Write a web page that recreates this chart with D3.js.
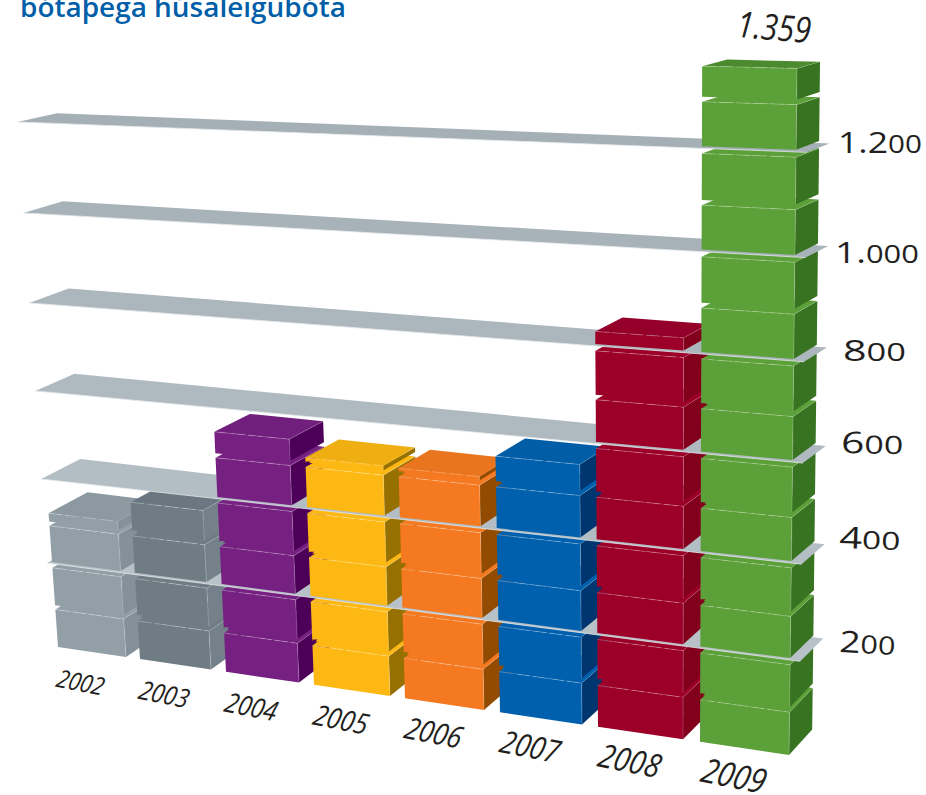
<!DOCTYPE html>
<html><head><meta charset="utf-8">
<style>html,body{margin:0;padding:0;background:#fff}svg{display:block}</style>
<script src="https://cdn.jsdelivr.net/npm/d3@7"></script></head>
<body><svg id="c" width="926" height="795"></svg>
<script>
// ---- data ----
const years = ["2002","2003","2004","2005","2006","2007","2008","2009"];
const values = [320,369,547,510,508,554,829,1359];
const valueTicks = [200,400,600,800,1000,1200];
const tickLabels = ["200","400","600","800","1.000","1.200"];
const peakLabel = "1.359";
const titleText = "bótaþega húsaleigubóta";
const blockSize = 100;
const blockFill = 90;
const frontColors = ["#929fa7","#6f7c84","#762181","#fdb813","#f47920","#0060ae","#9c0028","#5ba038"];
const sideColors  = ["#84919a","#74818a","#4d0058","#967000","#924b00","#003670","#83001c","#387322"];
const topColors   = ["#8d99a1","#6a7780","#701f7c","#efaf12","#ea751f","#005da6","#94002a","#4b8a2e"];

// ---- perspective layout, built from scales ----
const levels = [0,200,400,600,800,1000,1200];
const yAt0   = d3.scaleLinear().domain(levels).range([638.4,556.9,474.4,387.6,300.7,211.6,121.3]);
const yAt800 = d3.scaleLinear().domain(levels).range([756.6,661.3,564,462.8,361.5,257.3,152.1]);
const colIndex = d3.range(years.length);
const colLeft  = d3.scaleLinear().domain(colIndex).range([58,140,226,314,405,500,598,700]);
const colRight = d3.scaleLinear().domain(colIndex).range([126,211,299,390,484,582,683,789]);
const lean   = d3.scaleLinear().domain([58,789]).range([-0.0295,0.0059]);
const depthX = d3.scaleLinear().domain([50,797]).range([39,23]);
const depthY = d3.scaleLinear().domain([0,1400]).range([-25.5,-6]);

function project(x0, v, d){
  const x = x0 + lean(x0)*v;
  const y = yAt0(v) + (yAt800(v)-yAt0(v))*x/800;
  return [x + d*depthX(x), y + d*depthY(v)];
}
const poly = d3.line();
const closed = pts => poly(pts)+"Z";

const svg = d3.select("#c");

// blocks per column
function blocksOf(value,i){
  const out=[];
  for(let b=0;b<value;b+=blockSize){
    const onTick = valueTicks.includes(b);
    const v1=Math.min(b+blockFill,value);
    out.push({i, v0:b+(onTick?4:0), v1, base:b, last:b+blockSize>=value});
  }
  return out;
}
const allBlocks = values.flatMap(blocksOf);

function drawBlock(g,blocks){
  const s=g.selectAll(null).data(blocks).join("g");
  s.append("path").attr("fill",d=>sideColors[d.i]).attr("d",d=>{
    const r=colRight(d.i);
    return closed([project(r,d.v0,0),project(r,d.v1,0),project(r,d.v1,1),project(r,d.v0,1)]);
  });
  s.append("path").attr("fill",d=>d.last?topColors[d.i]:frontColors[d.i]).attr("d",d=>{
    const l=colLeft(d.i),r=colRight(d.i);
    return closed([project(l,d.v1,0),project(r,d.v1,0),project(r,d.v1,1),project(l,d.v1,1)]);
  });
  s.append("path").attr("fill",d=>frontColors[d.i]).attr("d",d=>{
    const l=colLeft(d.i),r=colRight(d.i);
    return closed([project(l,d.v0,0),project(r,d.v0,0),project(r,d.v1,0),project(l,d.v1,0)]);
  });
  s.append("path").attr("fill","none").attr("stroke","#fff").attr("stroke-opacity",.33)
    .attr("stroke-width",.8).attr("stroke-dasharray","14 3")
    .attr("d",d=>poly([project(colLeft(d.i),d.v1,0),project(colRight(d.i),d.v1,0)]));
  s.append("path").attr("fill","none").attr("stroke","#fff").attr("stroke-opacity",.25)
    .attr("stroke-width",.8)
    .attr("d",d=>poly([project(colRight(d.i),d.v1,0),project(colRight(d.i),d.v0,0)]));
  s.append("path").attr("fill","none").attr("stroke","#fff").attr("stroke-opacity",.2)
    .attr("stroke-width",.7)
    .attr("d",d=>poly([project(colRight(d.i),d.v1,0),project(colRight(d.i),d.v1,1)]));
}
const slabLeft=53, slabRight=799;
const slabColor=d3.scaleLinear().domain([200,1200]).range(["#b7c1c7","#a4afb6"]);
function drawSlab(g,t){
  g.append("path").attr("fill",slabColor(t)).attr("d",closed([
    project(slabLeft,t,0),project(slabRight,t,0),project(slabRight,t,1),project(slabLeft,t,1)]));
  g.append("path").attr("fill","none").attr("stroke","#e4e8ea").attr("stroke-width",.8)
    .attr("d",poly([project(slabLeft,t,0),project(slabRight,t,0)]));
}
// painter's order: every band of blocks, then the gridline slab that sits on it
const bands=[0,...valueTicks];
bands.forEach((lo,k)=>{
  const hi = k<bands.length-1?bands[k+1]:Infinity;
  drawBlock(svg.append("g"),allBlocks.filter(b=>b.base>=lo&&b.base<hi));
  if(hi!==Infinity) drawSlab(svg.append("g"),hi);
});

// small notches where a block's edge pokes over the next column
const notches=allBlocks.filter(b=>b.base%200===100 && b.i<years.length-1);
svg.append("g").selectAll("path").data(notches).join("path")
  .attr("fill",d=>sideColors[d.i])
  .attr("d",d=>{
    const y=project(colRight(d.i),d.base-8,0)[1];
    const x=project(colLeft(d.i+1),d.base-8,0)[0];
    return closed([[x,y-3],[x+5,y-3],[x,y+2]]);
  });

// value-axis labels: zeros set small like the original figures
const tickX=[839,839,841,843,835,838];
const tickNudge=[-8,-15,-9,0,6,1];
const tickRot=[3,2,1,0,0,0];
const tickWidth=[56,61,62,63,84,84];
valueTicks.forEach((t,i)=>{
  const p=project(colRight(7),t,0);
  const txt=svg.append("text").attr("font-family","Open Sans").attr("font-weight",500)
    .attr("fill","#231f20").attr("font-size",30);
  for(const ch of tickLabels[i]){
    txt.append("tspan").attr("font-size",ch==="0"?25:30).text(ch);
  }
  const w=txt.node().getComputedTextLength();
  txt.attr("transform",`translate(${tickX[i]},${p[1]+tickNudge[i]}) rotate(${tickRot[i]}) scale(${tickWidth[i]/w},1)`);
});

// year labels
const yearSize=d3.scaleLinear().domain([0,7]).range([25,34]);
svg.selectAll("text.year").data(years).join("text").attr("class","year")
  .attr("font-family","Open Sans").attr("font-style","italic").attr("font-weight",500).attr("fill","#231f20")
  .attr("text-anchor","middle").attr("font-size",(d,i)=>yearSize(i))
  .attr("transform",(d,i)=>{
    const cx=(colLeft(i)+colRight(i))/2;
    const p=project(cx,0,0);
    return `translate(${p[0]-14},${p[1]+39}) rotate(11) skewX(-6) scale(.86,1)`;
  }).text(d=>d);

// peak label
svg.append("text").attr("font-family","Open Sans").attr("font-style","italic").attr("fill","#231f20")
  .attr("font-size",36).attr("text-anchor","middle")
  .attr("transform","translate(773,40) rotate(5) scale(.84,1)").text(peakLabel);

// title, cut by the top edge as in the original
svg.append("text").attr("font-family","Open Sans").attr("font-weight",600).attr("fill","#005fa8")
  .attr("font-size",27).attr("x",20).attr("y",17).attr("textLength",326).attr("lengthAdjust","spacingAndGlyphs").text(titleText);
</script></body></html>
